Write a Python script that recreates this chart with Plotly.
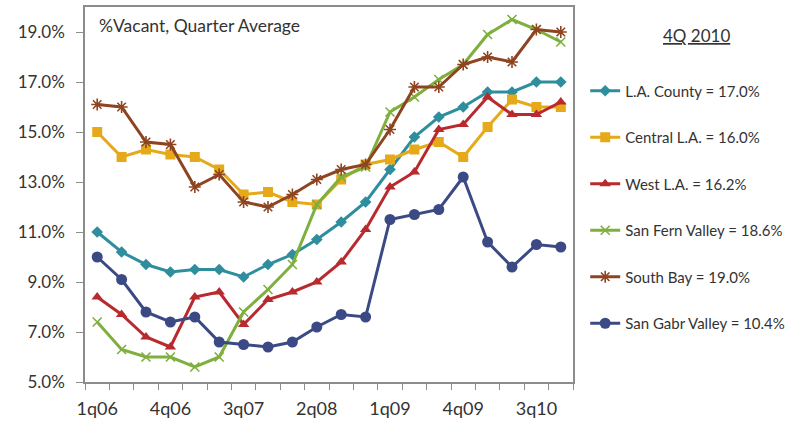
import plotly.graph_objects as go

# Quarters 1q06 .. 4q10
quarters = [f"{q}q{y:02d}" for y in range(6, 11) for q in range(1, 5)]
tick_labels = ["1q06", "4q06", "3q07", "2q08", "1q09", "4q09", "3q10"]
y_ticks = [5, 7, 9, 11, 13, 15, 17, 19]

# Office vacancy, percent, quarterly average
la_county = [11.0, 10.2, 9.7, 9.4, 9.5, 9.5, 9.2, 9.7, 10.1, 10.7,
             11.4, 12.2, 13.5, 14.8, 15.6, 16.0, 16.6, 16.6, 17.0, 17.0]
central_la = [15.0, 14.0, 14.3, 14.1, 14.0, 13.5, 12.5, 12.6, 12.2, 12.1,
              13.1, 13.7, 13.9, 14.3, 14.6, 14.0, 15.2, 16.3, 16.0, 16.0]
west_la = [8.4, 7.7, 6.8, 6.4, 8.4, 8.6, 7.3, 8.3, 8.6, 9.0,
           9.8, 11.1, 12.8, 13.4, 15.1, 15.3, 16.4, 15.7, 15.7, 16.2]
san_fern = [7.4, 6.3, 6.0, 6.0, 5.6, 6.0, 7.8, 8.7, 9.7, 12.1,
            13.2, 13.6, 15.8, 16.4, 17.1, 17.7, 18.9, 19.5, 19.1, 18.6]
south_bay = [16.1, 16.0, 14.6, 14.5, 12.8, 13.3, 12.2, 12.0, 12.5, 13.1,
             13.5, 13.7, 15.1, 16.8, 16.8, 17.7, 18.0, 17.8, 19.1, 19.0]
san_gabr = [10.0, 9.1, 7.8, 7.4, 7.6, 6.6, 6.5, 6.4, 6.6, 7.2,
            7.7, 7.6, 11.5, 11.7, 11.9, 13.2, 10.6, 9.6, 10.5, 10.4]

series = [
    ("L.A. County", la_county, "#2F8E9E", "diamond", 9),
    ("Central L.A.", central_la, "#E6A919", "square", 10),
    ("West L.A.", west_la, "#B82A2E", "triangle-up", 10),
    ("San Fern Valley", san_fern, "#7FAF3E", "x-thin-open", 9),
    ("South Bay", south_bay, "#8E4421", "asterisk-open", 10),
    ("San Gabr Valley", san_gabr, "#3B4A85", "circle", 11),
]

x = list(range(len(quarters)))
tick_pos = [quarters.index(t) for t in tick_labels]

fig = go.Figure()
for i, (name, vals, color, symbol, size) in enumerate(series):
    open_marker = symbol.endswith("open")
    fig.add_trace(go.Scatter(
        x=x, y=vals, mode="lines+markers",
        name=f"{name} = {vals[-1]:.1f}%",
        legendgroup=f"g{i}",
        line=dict(color=color, width=3),
        marker=dict(symbol=symbol, size=size, color=color,
                    line=dict(color=color, width=1.6 if open_marker else 0)),
        hovertext=quarters,
    ))

font_family = "Lato, 'Open Sans', Arial, sans-serif"

fig.update_layout(
    width=793, height=430,
    margin=dict(l=85, r=220, t=7, b=48, autoexpand=False),
    paper_bgcolor="white", plot_bgcolor="white",
    font=dict(family=font_family, color="#333333"),
    showlegend=True,
    legend=dict(
        x=1.025, xanchor="left", y=0.82, yanchor="top",
        font=dict(size=15, color="#333333"),
        tracegroupgap=24, itemwidth=30,
        bgcolor="rgba(0,0,0,0)",
    ),
    xaxis=dict(
        range=[-0.5, len(quarters) - 0.5],
        tickmode="array", tickvals=tick_pos, ticktext=tick_labels,
        ticks="", ticklabelstandoff=10,
        tickfont=dict(size=18, color="#333333"),
        showgrid=False, zeroline=False,
        showline=True, linecolor="#8C8C8C", linewidth=1.5, mirror=True,
        minor=dict(ticks="outside", tick0=-0.5, dtick=1, ticklen=6,
                   tickcolor="#8C8C8C", tickwidth=1, showgrid=False),
    ),
    yaxis=dict(
        range=[5, 20],
        tickmode="array", tickvals=y_ticks,
        ticktext=[f"{v:.1f}%" for v in y_ticks],
        ticks="outside", ticklen=7, tickcolor="#8C8C8C",
        ticklabelstandoff=8,
        tickfont=dict(size=17, color="#333333"),
        showgrid=False, zeroline=False,
        showline=True, linecolor="#8C8C8C", linewidth=1.5, mirror=True,
    ),
    annotations=[
        dict(text="%Vacant, Quarter Average", xref="paper", yref="paper",
             x=0.024, y=0.985, xanchor="left", yanchor="top",
             showarrow=False, font=dict(size=17.5, color="#333333")),
        dict(text="<u>4Q 2010</u>", xref="paper", yref="paper",
             x=1.254, y=0.925, xanchor="center", yanchor="middle",
             showarrow=False, font=dict(size=17, color="#333333")),
    ],
)

fig.write_html("out.html")
